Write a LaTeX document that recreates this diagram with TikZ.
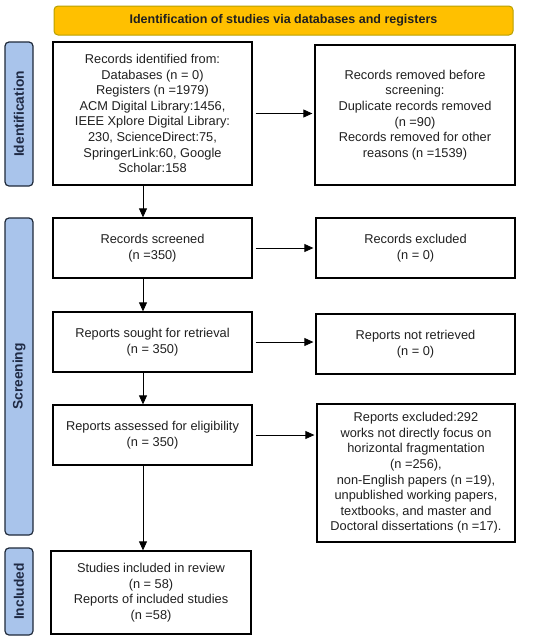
\documentclass[tikz,border=0pt]{standalone}
\usepackage{fontspec}
\setmainfont{Liberation Sans}
\usetikzlibrary{arrows.meta}
\definecolor{hdrfill}{HTML}{FFC000}
\definecolor{hdrdraw}{HTML}{B8A000}
\definecolor{lblfill}{HTML}{A9C4EB}
\definecolor{lbldraw}{HTML}{1F2A3A}
\definecolor{lbltext}{HTML}{1F2A44}
\definecolor{boxtext}{HTML}{202020}
\begin{document}
\begin{tikzpicture}[x=1pt,y=-1pt,
  box/.style={draw=black,line width=1.3pt,fill=white,align=center,inner sep=0pt,text=boxtext,
    font=\fontsize{12.8}{15.6}\selectfont},
  lbl/.style={draw=lbldraw,fill=lblfill,line width=1.2pt,rounded corners=4pt,inner sep=0pt},
  lbltxt/.style={rotate=90,text=lbltext,font=\bfseries\fontsize{13.8}{15}\selectfont},
  arr/.style={-{Triangle[length=9pt,width=8pt]},line width=0.8pt}]
\useasboundingbox (0,0) rectangle (550,641);
% header
\node[draw=hdrdraw,fill=hdrfill,line width=1pt,rounded corners=4pt,minimum width=459pt,minimum height=29pt,
  text=boxtext,font=\bfseries\fontsize{12.5}{14}\selectfont] (hdr) at (283.5,20.5) {Identification of studies via databases and registers};
% side labels
\node[lbl,minimum width=28pt,minimum height=144pt] (lid) at (19,114) {};
\node[lbltxt] (lidt) at (lid.center) {Identification};
\node[lbl,minimum width=28pt,minimum height=317pt] (lsc) at (19,376.5) {};
\node[lbltxt] (lsct) at (lsc.center) {Screening};
\node[lbl,minimum width=28pt,minimum height=87pt] (lin) at (19,591.5) {};
\node[lbltxt] (lint) at (lin.center) {Included};
% left column
\node[box,minimum width=199pt,minimum height=143pt] (rid) at (152.5,113.5) {Records identified from:\\Databases (n = 0)\\Registers (n =1979)\\ACM Digital Library:1456,\\IEEE Xplore Digital Library:\\230, ScienceDirect:75,\\SpringerLink:60, Google\\Scholar:158};
\node[box,minimum width=199pt,minimum height=60pt] (rsc) at (152.5,248) {Records screened\\(n =350)};
\node[box,minimum width=199pt,minimum height=60pt] (rso) at (152.5,342) {Reports sought for retrieval\\(n = 350)};
\node[box,minimum width=199pt,minimum height=60pt] (ras) at (152.5,435) {Reports assessed for eligibility\\(n = 350)};
\node[box,minimum width=200pt,minimum height=83pt] (sin) at (151,592.5) {Studies included in review\\(n = 58)\\Reports of included studies\\(n =58)};
% right column
\node[box,minimum width=200pt,minimum height=140pt] (rrm) at (415,115) {Records removed before\\screening:\\Duplicate records removed\\(n =90)\\Records removed for other\\reasons (n =1539)};
\node[box,minimum width=199pt,minimum height=60pt] (rex) at (415.5,248) {Records excluded\\(n = 0)};
\node[box,minimum width=199pt,minimum height=60pt] (rnr) at (415.5,344) {Reports not retrieved\\(n = 0)};
\node[box,minimum width=198pt,minimum height=138pt] (rpe) at (416,473) {Reports excluded:292\\works not directly focus on\\horizontal fragmentation\\(n =256),\\non-English papers (n =19),\\unpublished working papers,\\textbooks, and master and\\Doctoral dissertations (n =17).};
% connectors
\draw[arr] (rid.south -| 143,0) -- (rsc.north -| 143,0);
\draw[arr] (rsc.south -| 143,0) -- (rso.north -| 143,0);
\draw[arr] (rso.south -| 143,0) -- (ras.north -| 143,0);
\draw[arr] (ras.south -| 143,0) -- (sin.north -| 143,0);
\draw[arr] ([xshift=3pt]rid.east) -- ([xshift=-2pt]rrm.west |- rid.east);
\draw[arr] ([xshift=3pt]rsc.east) -- ([xshift=-2pt]rex.west |- rsc.east);
\draw[arr] ([xshift=3pt]rso.east) -- ([xshift=-2pt]rnr.west |- rso.east);
\draw[arr] ([xshift=3pt]ras.east) -- ([xshift=-2pt]rpe.west |- ras.east);
\end{tikzpicture}
\end{document}
